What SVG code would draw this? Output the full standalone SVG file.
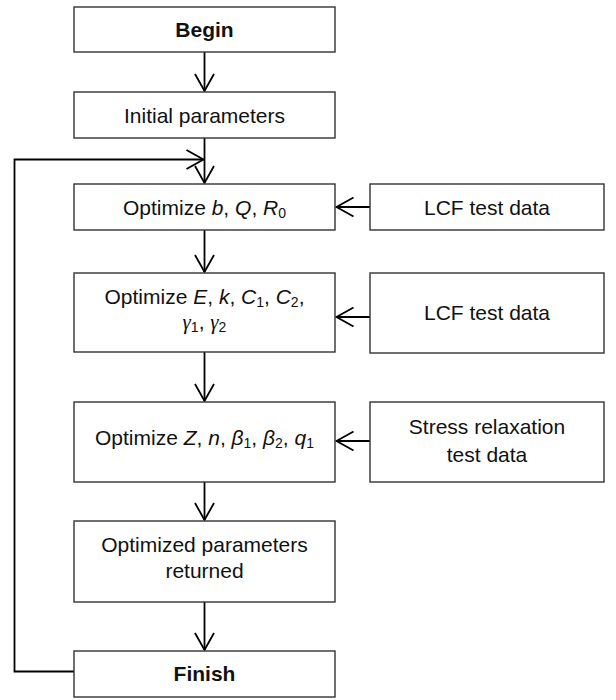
<svg xmlns="http://www.w3.org/2000/svg" width="616" height="700" viewBox="0 0 616 700">
<style>
.box{fill:#fff;stroke:#333;stroke-width:1.4}
.t{font-family:"Liberation Sans",Arial,sans-serif;font-size:21px;fill:#111;text-anchor:middle}
.b{font-weight:bold}
.i{font-style:italic}
.g{font-family:"Liberation Serif","Times New Roman",serif;font-style:italic}
.s{font-size:14px}
.c{fill:none;stroke:#000;stroke-width:1.8}
</style>
<defs>
<marker id="ah" markerUnits="userSpaceOnUse" markerWidth="24" markerHeight="24" viewBox="-20 -12 24 24" refX="0" refY="0" orient="auto">
<path d="M-17,-9.5 L0,0 L-17,9.5" fill="none" stroke="#000" stroke-width="1.8"/>
</marker>
</defs>
<g id="connectors">
<line class="c" x1="204.5" y1="52" x2="204.5" y2="91" marker-end="url(#ah)"/>
<line class="c" x1="204.5" y1="138" x2="204.5" y2="183" marker-end="url(#ah)"/>
<polyline class="c" points="74,671.5 14.5,671.5 14.5,159.5 203.5,159.5" marker-end="url(#ah)"/>
<line class="c" x1="204.5" y1="230" x2="204.5" y2="272" marker-end="url(#ah)"/>
<line class="c" x1="204.5" y1="352" x2="204.5" y2="401" marker-end="url(#ah)"/>
<line class="c" x1="204.5" y1="482" x2="204.5" y2="520" marker-end="url(#ah)"/>
<line class="c" x1="204.5" y1="602" x2="204.5" y2="650" marker-end="url(#ah)"/>
<line class="c" x1="370" y1="207" x2="336.5" y2="207" marker-end="url(#ah)"/>
<line class="c" x1="370" y1="317" x2="336.5" y2="317" marker-end="url(#ah)"/>
<line class="c" x1="370" y1="441" x2="336.5" y2="441" marker-end="url(#ah)"/>
</g>
<g id="begin">
<rect class="box" x="74" y="7" width="261" height="45"/>
<text class="t b" x="204.5" y="37">Begin</text>
</g>
<g id="initial">
<rect class="box" x="74" y="92" width="261" height="46"/>
<text class="t" x="204.5" y="122.5">Initial parameters</text>
</g>
<g id="opt1">
<rect class="box" x="74" y="184" width="261" height="46"/>
<text class="t" x="204.5" y="215">Optimize <tspan class="i">b</tspan>, <tspan class="i">Q</tspan>, <tspan class="i">R</tspan><tspan class="s" dy="3">0</tspan></text>
</g>
<g id="lcf1">
<rect class="box" x="370" y="184" width="234" height="46"/>
<text class="t" x="487" y="215">LCF test data</text>
</g>
<g id="opt2">
<rect class="box" x="74" y="273" width="261" height="79"/>
<text class="t" x="204.5" y="304">Optimize <tspan class="i">E</tspan>, <tspan class="i">k</tspan>, <tspan class="i">C</tspan><tspan class="s" dy="3">1</tspan><tspan dy="-3">, </tspan><tspan class="i">C</tspan><tspan class="s" dy="3">2</tspan><tspan dy="-3">,</tspan></text>
<text class="t" x="204.5" y="329"><tspan class="g">γ</tspan><tspan class="s" dy="3">1</tspan><tspan dy="-3">, </tspan><tspan class="g">γ</tspan><tspan class="s" dy="3">2</tspan></text>
</g>
<g id="lcf2">
<rect class="box" x="370" y="273" width="234" height="80"/>
<text class="t" x="487" y="320">LCF test data</text>
</g>
<g id="opt3">
<rect class="box" x="74" y="402" width="261" height="80"/>
<text class="t" x="204.5" y="445">Optimize <tspan class="i">Z</tspan>, <tspan class="i">n</tspan>, <tspan class="i">β</tspan><tspan class="s" dy="3">1</tspan><tspan dy="-3">, </tspan><tspan class="i">β</tspan><tspan class="s" dy="3">2</tspan><tspan dy="-3">, </tspan><tspan class="i">q</tspan><tspan class="s" dy="3">1</tspan></text>
</g>
<g id="stress">
<rect class="box" x="370" y="402" width="234" height="80"/>
<text class="t" x="487" y="434">Stress relaxation</text>
<text class="t" x="487" y="461.5">test data</text>
</g>
<g id="returned">
<rect class="box" x="74" y="521" width="261" height="81"/>
<text class="t" x="204.5" y="551.5">Optimized parameters</text>
<text class="t" x="204.5" y="578">returned</text>
</g>
<g id="finish">
<rect class="box" x="74" y="651" width="261" height="46"/>
<text class="t b" x="204.5" y="681">Finish</text>
</g>
</svg>
